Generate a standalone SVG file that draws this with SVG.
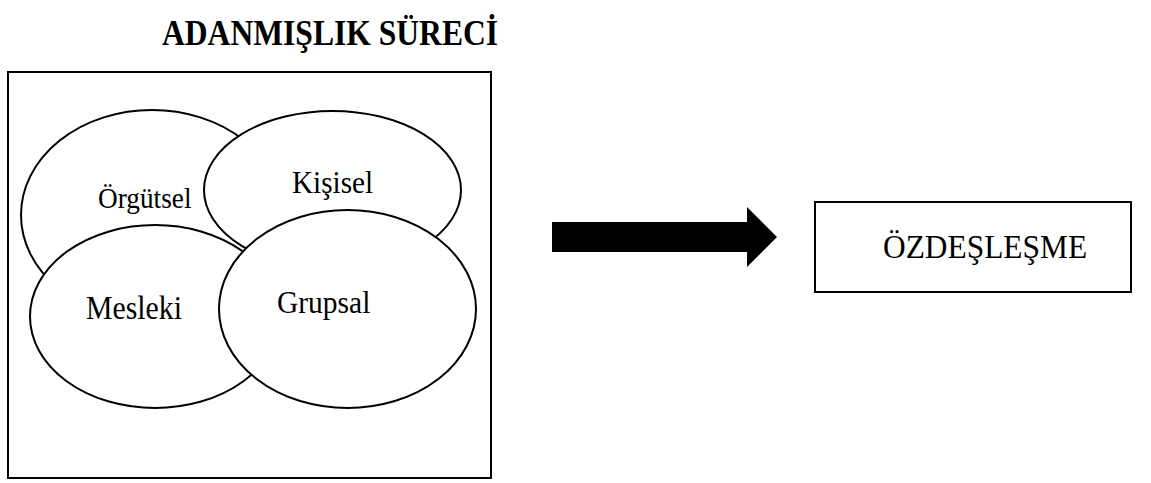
<svg xmlns="http://www.w3.org/2000/svg" width="1151" height="483" viewBox="0 0 1151 483">
<style>
.frame{fill:#fff;stroke:#000;stroke-width:2}
.set{fill:#fff;stroke:#000;stroke-width:2}
.lbl{font-family:"Liberation Serif","Times New Roman",serif;fill:#000}
.title{font-family:"Liberation Serif","Times New Roman",serif;font-weight:bold;font-size:31.6px;fill:#000}
</style>
<rect width="1151" height="483" fill="#fff"/>
<text class="title" transform="translate(162,45) scale(1,1.1)">ADANMIŞLIK SÜRECİ</text>
<g id="process">
<rect class="frame" x="8" y="72" width="483" height="406"/>
</g>
<g id="orgutsel">
<ellipse class="set" cx="152" cy="215" rx="131" ry="105"/>
<text class="lbl" transform="translate(98,208) scale(1,1.1)" font-size="27.3">Örgütsel</text>
</g>
<g id="kisisel">
<ellipse class="set" cx="332.5" cy="190" rx="128.5" ry="79"/>
<text class="lbl" transform="translate(292,193) scale(1,1.1)" font-size="29.2">Kişisel</text>
</g>
<g id="mesleki">
<ellipse class="set" cx="155" cy="316.5" rx="125" ry="91.5"/>
<text class="lbl" transform="translate(86,319) scale(1,1.1)" font-size="29.8">Mesleki</text>
</g>
<g id="grupsal">
<ellipse class="set" cx="347.5" cy="309" rx="128.5" ry="99"/>
<text class="lbl" transform="translate(277,313) scale(1,1.1)" font-size="29.5">Grupsal</text>
</g>
<g id="connectors">
<polygon points="552,222 747,222 747,207 777,237 747,267 747,252 552,252" fill="#000"/>
</g>
<g id="ozdeslesme">
<rect class="frame" x="815" y="202" width="316" height="90"/>
<text class="lbl" transform="translate(883,258) scale(1,1.1)" font-size="31.4">ÖZDEŞLEŞME</text>
</g>
</svg>
